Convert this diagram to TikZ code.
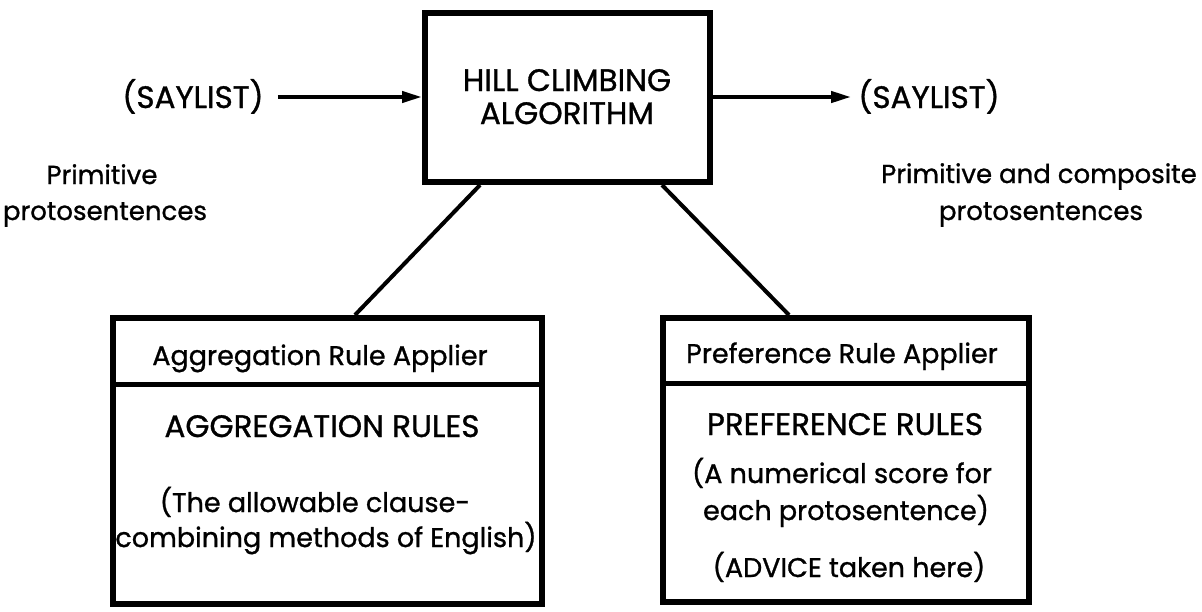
\documentclass[tikz,border=0pt]{standalone}
\usepackage{fontspec}
\setmainfont{Poppins}[FakeBold=1]
\usetikzlibrary{arrows.meta,calc}
\begin{document}
\begin{tikzpicture}[x=1pt,y=-1pt,
  box/.style={draw, line width=6pt, inner sep=0pt},
  divider/.style={line width=5pt},
  conn/.style={line width=4pt},
  arr/.style={line width=4pt, -{Triangle[length=20pt,width=11pt]}},
  lbl/.style={font=\fontsize{27}{33}\selectfont, inner sep=0pt, anchor=base},
  caps/.style={lbl, font=\fontsize{31}{33}\selectfont},
  side/.style={lbl, font=\fontsize{26}{33}\selectfont}
]
\useasboundingbox (0,0) rectangle (1202,611);
% main box
\node[box, minimum width=285pt, minimum height=169pt] (hill) at (567.5,97.5) {};
\node[caps] (hill1) at (567,91) {HILL CLIMBING};
\node[caps] (hill2) at (567,124) {ALGORITHM};
% input / output
\node[caps] (inL) at (193,108) {(SAYLIST)};
\node[caps] (outR) at (929,108) {(SAYLIST)};
\coordinate (inY) at (0,97);
\draw[arr] ($(inL.east |- inY)+(14,0)$) -- (hill.west |- inY);
\draw[arr] (hill.east |- inY) -- ($(outR.west |- inY)+(-7,0)$);
\node[side] (primL1) at (102,184) {Primitive};
\node[side] (primL2) at (105,220) {protosentences};
\node[side] (primR1) at (1039,183) {Primitive and composite};
\node[side] (primR2) at (1041,220) {protosentences};
% aggregation box
\node[box, minimum width=429pt, minimum height=286pt] (agg) at (327.5,461) {};
\draw[divider] ($(agg.north west)+(0,69)$) -- ($(agg.north east)+(0,69)$);
\node[lbl] (agg1) at (320,365) {Aggregation Rule Applier};
\node[caps] (agg2) at (322,437) {AGGREGATION RULES};
\node[lbl] (agg3) at (315,512) {(The allowable clause-};
\node[lbl] (agg4) at (326,547) {combining methods of English)};
% preference box
\node[box, minimum width=366pt, minimum height=284pt] (pref) at (846,460) {};
\draw[divider] ($(pref.north west)+(0,68)$) -- ($(pref.north east)+(0,68)$);
\node[lbl] (pref1) at (842,363) {Preference Rule Applier};
\node[caps] (pref2) at (845,435) {PREFERENCE RULES};
\node[lbl] (pref3) at (842,483) {(A numerical score for};
\node[lbl] (pref4) at (846,520) {each protosentence)};
\node[lbl] (pref5) at (849,577) {(ADVICE taken here)};
% connectors
\draw[conn] ($(hill.south west)+(58,0)$) -- ($(agg.north west)+(245,0)$);
\draw[conn] ($(hill.south west)+(240,0)$) -- ($(pref.north west)+(129,0)$);
\end{tikzpicture}
\end{document}
